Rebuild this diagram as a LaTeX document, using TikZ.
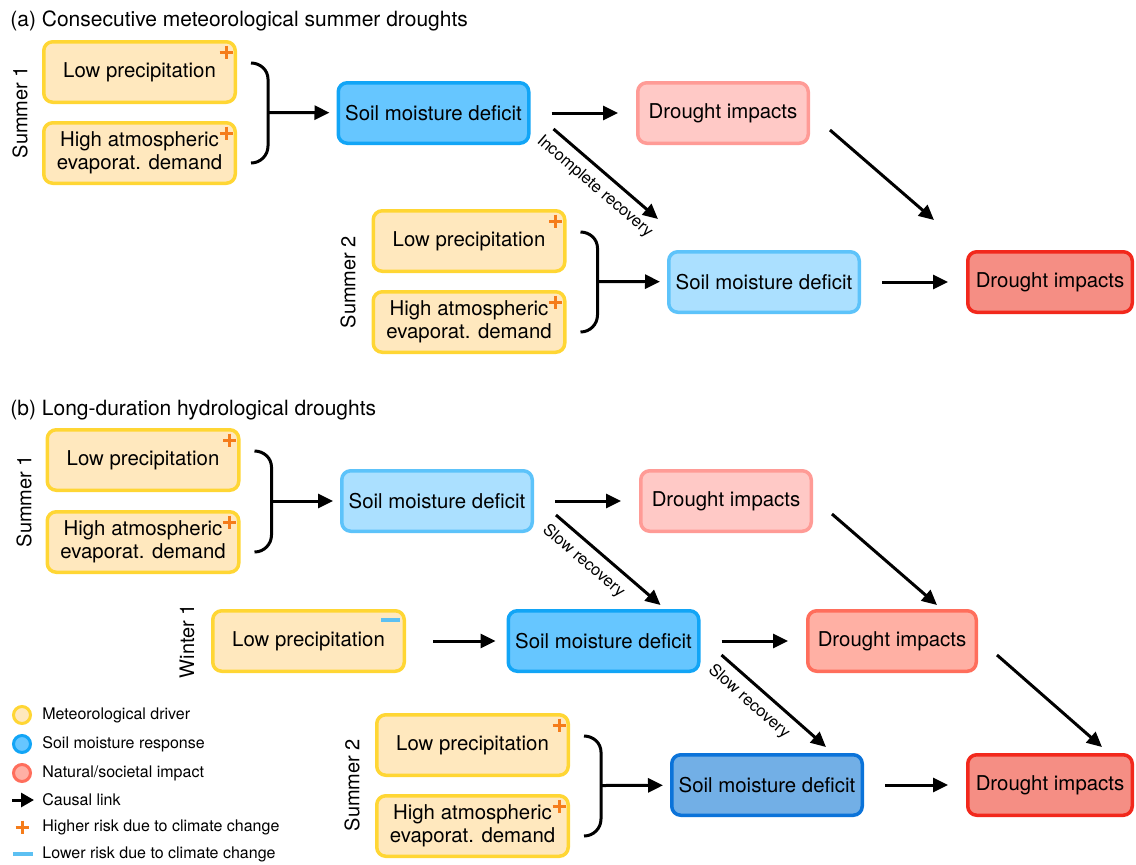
\documentclass[tikz,border=0pt]{standalone}
\usepackage{fontspec}
\setmainfont{TeX Gyre Heros}
\usetikzlibrary{arrows.meta,calc}
\definecolor{drvfill}{HTML}{FFE8BE}
\definecolor{drvline}{HTML}{FFD634}
\definecolor{smAfill}{HTML}{66C6FF}
\definecolor{smAline}{HTML}{12A5F6}
\definecolor{smLfill}{HTML}{ABE0FF}
\definecolor{smLline}{HTML}{5DC3FA}
\definecolor{smDfill}{HTML}{72AFE6}
\definecolor{smDline}{HTML}{0B73D9}
\definecolor{diLfill}{HTML}{FFC9C6}
\definecolor{diLline}{HTML}{FF9B96}
\definecolor{diMfill}{HTML}{FFB0A4}
\definecolor{diMline}{HTML}{FF6E5C}
\definecolor{diDfill}{HTML}{F58E84}
\definecolor{diDline}{HTML}{F2281C}
\definecolor{plusc}{HTML}{F57C1A}
\definecolor{minusc}{HTML}{5CC0F2}
\newcommand{\plusmark}[1]{\draw[plusst] ([shift={(-11,12)}]#1.north east) ++(-6.5,0) -- ++(13,0) ++(-6.5,-6.5) -- ++(0,13);}
\newcommand{\bracepath}[3]{%
  \draw[brcst] ([shift={(14,-9)}]#1.east) to[out=0,in=90] ([shift={(31,7)}]#1.east) -- ([shift={(31,-7)}]#2.east) to[out=-90,in=0] ([shift={(14,10)}]#2.east);
  \coordinate (#3) at ($(#1.east)!0.5!(#2.east)+(31,0)$);}
\begin{document}
\begin{tikzpicture}[x=0.5pt,y=-0.5pt,
  box/.style={draw, line width=1.75pt, rounded corners=4.5pt, minimum height=30.25pt, align=center, inner sep=0pt, font=\fontsize{10.2}{11.5}\selectfont},
  drv/.style={box, fill=drvfill, draw=drvline, minimum width=95.75pt},
  smA/.style={box, fill=smAfill, draw=smAline, minimum width=95.25pt},
  smL/.style={box, fill=smLfill, draw=smLline, minimum width=95.25pt},
  smD/.style={box, fill=smDfill, draw=smDline, minimum width=95.25pt},
  diL/.style={box, fill=diLfill, draw=diLline, minimum width=85.25pt},
  diM/.style={box, fill=diMfill, draw=diMline, minimum width=84.25pt},
  diD/.style={box, fill=diDfill, draw=diDline, minimum width=82.25pt},
  arr/.style={line width=1.5pt, -{Triangle[length=7.5pt,width=7pt]}},
  harr/.style={arr, shorten <=10.5pt, shorten >=9pt},
  brcst/.style={line width=1.5pt},
  plusst/.style={draw=plusc, line width=1.5pt},
  lab/.style={font=\fontsize{8.2}{9}\selectfont, sloped, below, inner sep=3.8pt},
  vlab/.style={rotate=90, font=\fontsize{10}{12}\selectfont},
  ttl/.style={anchor=base west, font=\fontsize{10.5}{12}\selectfont, inner sep=0pt},
  legt/.style={anchor=west, font=\fontsize{8}{9}\selectfont, inner sep=0pt},
  legc/.style={circle, line width=1.5pt, minimum size=8.5pt, inner sep=0pt}
]
\useasboundingbox (0,0) rectangle (1136,864);

% ---------- (a) ----------
\node[ttl] (ta) at (10,26) {(a) Consecutive meteorological summer droughts};
\node[drv] (A1) at (139.5,72) {Low precipitation};
\node[drv] (A2) at (139.5,153) {High atmospheric\\evaporat. demand};
\node[vlab] (sa1) at (20,112) {Summer 1};
\node[smA] (A3) at (433.5,113) {Soil moisture deficit};
\node[diL] (A4) at (723,113) {Drought impacts};
\node[vlab] (sa2) at (348,282) {Summer 2};
\node[drv] (A5) at (469,241) {Low precipitation};
\node[drv] (A6) at (469,322) {High atmospheric\\evaporat. demand};
\node[smL] (A7) at (764,282) {Soil moisture deficit};
\node[diD] (A8) at (1050,282) {Drought impacts};
\plusmark{A1}
\plusmark{A2}
\plusmark{A5}
\plusmark{A6}
\bracepath{A1}{A2}{ba1}
\bracepath{A5}{A6}{ba2}
\draw[arr, shorten >=3.5pt] (ba1) -- (A3);
\draw[arr, shorten >=3.5pt] (ba2) -- (A7);
\draw[harr] (A3) -- (A4);
\draw[harr] (A7) -- (A8);
\draw[arr] ([shift={(23,-16)}]A3.south east) -- node[lab, pos=0.5]{Incomplete recovery} ([shift={(-9,-31)}]A7.north west);
\draw[arr] ([shift={(20,-15)}]A4.south east) -- ([shift={(-32,-30)}]A8.north west);

% ---------- (b) ----------
\node[ttl] (tb) at (10,415) {(b) Long-duration hydrological droughts};
\node[drv] (B1) at (143,460) {Low precipitation};
\node[drv] (B2) at (143,542) {High atmospheric\\evaporat. demand};
\node[vlab] (sb1) at (24,501) {Summer 1};
\node[smL] (B3) at (437,501) {Soil moisture deficit};
\node[diL] (B4) at (726,501) {Drought impacts};
\node[vlab] (sw1) at (187,641) {Winter 1};
\node[drv] (B5) at (308.5,641) {Low precipitation};
\node[smA] (B6) at (603.5,641) {Soil moisture deficit};
\node[diM] (B7) at (892,641) {Drought impacts};
\node[vlab] (sb2) at (352,785) {Summer 2};
\node[drv] (B8) at (472.5,745) {Low precipitation};
\node[drv] (B9) at (472.5,826) {High atmospheric\\evaporat. demand};
\node[smD] (B10) at (767,785) {Soil moisture deficit};
\node[diD] (B11) at (1050,785) {Drought impacts};
\plusmark{B1}
\plusmark{B2}
\plusmark{B8}
\plusmark{B9}
\draw[draw=minusc, line width=2pt] ([shift={(-25,11)}]B5.north east) -- ++(19,0);
\bracepath{B1}{B2}{bb1}
\bracepath{B8}{B9}{bb2}
\draw[arr, shorten >=3.5pt] (bb1) -- (B3);
\draw[arr, shorten >=3.5pt] (bb2) -- (B10);
\draw[harr] (B3) -- (B4);
\draw[arr, shorten <=13.5pt, shorten >=5.5pt] (B5) -- (B6);
\draw[harr] (B6) -- (B7);
\draw[harr] (B10) -- (B11);
\draw[arr] ([shift={(22,-18)}]B3.south east) -- node[lab, pos=0.37]{Slow recovery} ([shift={(57,-4)}]B6.north);
\draw[arr] ([shift={(19,-19)}]B4.south east) -- ([shift={(45,-4)}]B7.north);
\draw[arr] ([shift={(21,-18)}]B6.south east) -- node[lab, pos=0.37]{Slow recovery} ([shift={(59,-6)}]B10.north);
\draw[arr] ([shift={(19,-18)}]B7.south east) -- ([shift={(52,-6)}]B11.north);

% ---------- legend ----------
\node[legc, fill=drvfill, draw=drvline] (l1) at (22,715) {};
\node[legt] (lt1) at (42,715) {Meteorological driver};
\node[legc, fill=smAfill, draw=smAline] (l2) at (22,744) {};
\node[legt] (lt2) at (42,744) {Soil moisture response};
\node[legc, fill=diMfill, draw=diMline] (l3) at (22,773) {};
\node[legt] (lt3) at (42,773) {Natural/societal impact};
\coordinate (la0) at (12,800);
\coordinate (la1) at (34,800);
\draw[line width=1.5pt, -{Triangle[length=6.5pt,width=7pt]}] (la0) -- (la1);
\node[legt] (lt4) at (42,800) {Causal link};
\coordinate (lp) at (22,827);
\draw[plusst] (lp) ++(-6.5,0) -- ++(13,0) ++(-6.5,-6.5) -- ++(0,13);
\node[legt] (lt5) at (42,827) {Higher risk due to climate change};
\coordinate (lm0) at (13,854);
\coordinate (lm1) at (33,854);
\draw[draw=minusc, line width=2pt] (lm0) -- (lm1);
\node[legt] (lt6) at (42,854) {Lower risk due to climate change};
\end{tikzpicture}
\end{document}
